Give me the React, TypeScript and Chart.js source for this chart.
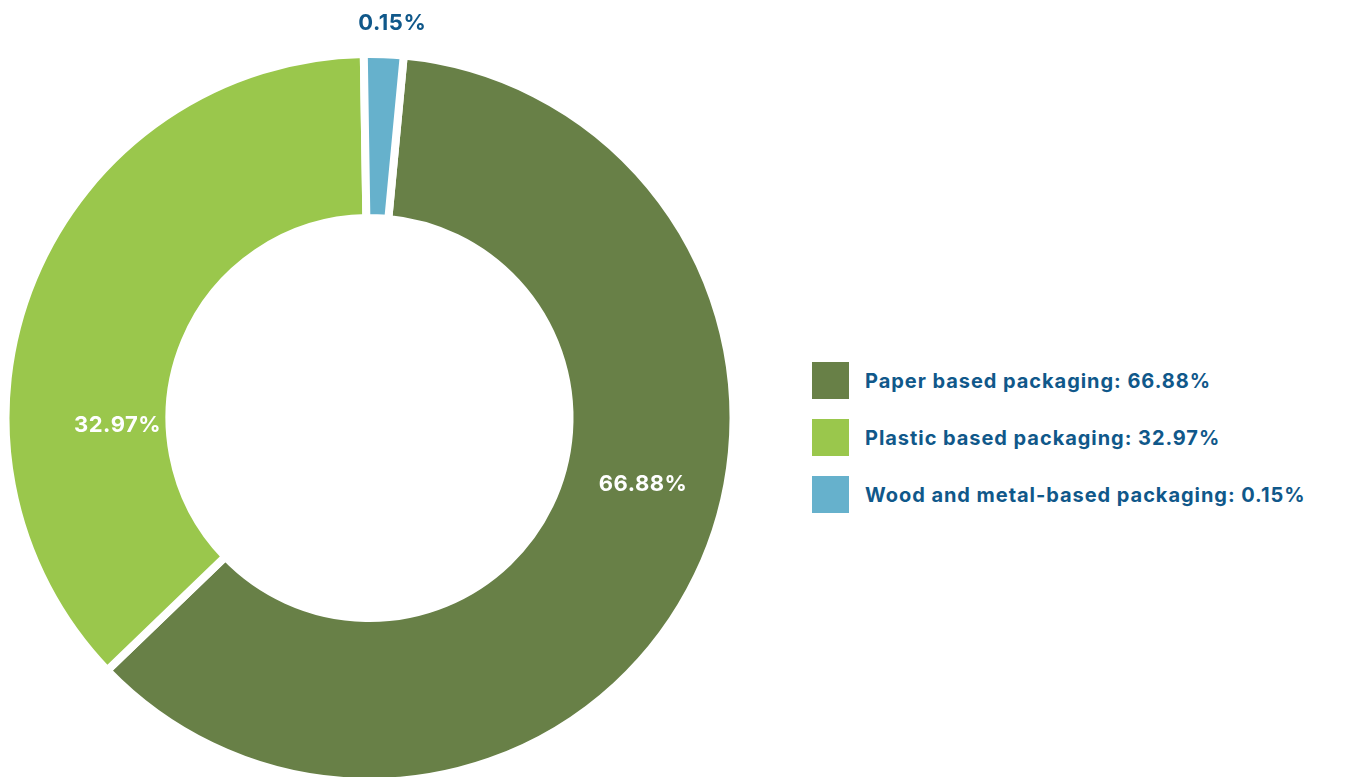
import React, { useEffect, useRef } from "react";
import { Chart, registerables } from "chart.js";

Chart.register(...registerables);

// ---- data ----
const categories = [
  "Paper based packaging",
  "Plastic based packaging",
  "Wood and metal-based packaging",
];
const printedPercent = ["66.88%", "32.97%", "0.15%"];
// share of the ring each slice occupies
const arcShare = [61.3, 36.95, 1.75];
const sliceColors = ["#688047", "#9AC74C", "#66B1CC"];

const TEXT_BLUE = "#10588A";
const FONT = "Inter, 'Open Sans', sans-serif";

// label placement: angle clockwise from top (deg), radius as fraction of the outer radius
const labelPlacement = [
  { angle: 103.6, r: 0.782, color: "#ffffff" },
  { angle: 268.3, r: 0.7, color: "#ffffff" },
  { angle: 3.3, r: 1.099, color: TEXT_BLUE },
];

const sliceLabelPlugin = {
  id: "sliceLabels",
  afterDatasetsDraw(chart: any) {
    const meta = chart.getDatasetMeta(0);
    const ctx = chart.ctx;
    ctx.save();
    ctx.font = `700 22px ${FONT}`;
    try {
      (ctx as any).letterSpacing = "0.5px";
    } catch (e) {}
    ctx.textAlign = "center";
    ctx.textBaseline = "middle";
    meta.data.forEach((arc: any, i: number) => {
      const p = labelPlacement[i];
      const R = arc.outerRadius - 4;
      const th = (p.angle * Math.PI) / 180;
      const px = arc.x + p.r * R * Math.sin(th);
      const py = arc.y - p.r * R * Math.cos(th);
      ctx.fillStyle = p.color;
      ctx.fillText(printedPercent[i], px, py);
    });
    ctx.restore();
  },
};

export default function App() {
  const canvasRef = useRef<HTMLCanvasElement | null>(null);

  useEffect(() => {
    if (!canvasRef.current) return;
    const chart = new Chart(canvasRef.current, {
      type: "doughnut",
      data: {
        labels: categories,
        datasets: [
          {
            data: arcShare,
            backgroundColor: sliceColors,
            borderColor: "#ffffff",
            borderWidth: 8,
            hoverOffset: 0,
          },
        ],
      },
      options: {
        responsive: false,
        animation: false,
        rotation: 5.4,
        radius: 364,
        cutout: "54.95%",
        layout: { padding: { left: 0, top: 0, right: 17, bottom: 10 } },
        plugins: {
          legend: { display: false },
          tooltip: { enabled: false },
        },
      },
      plugins: [sliceLabelPlugin],
    });
    return () => chart.destroy();
  }, []);

  return (
    <div
      style={{
        position: "relative",
        width: 1338,
        height: 769,
        overflow: "hidden",
        fontFamily: FONT,
      }}
    >
      <canvas
        ref={canvasRef}
        width={740}
        height={830}
        style={{ position: "absolute", left: 0, top: 0 }}
      />
      <div style={{ position: "absolute", left: 804, top: 354 }}>
        {categories.map((c, i) => (
          <div
            key={c}
            style={{
              display: "flex",
              alignItems: "center",
              height: 37,
              marginBottom: 20,
            }}
          >
            <div
              style={{
                width: 37,
                height: 37,
                background: sliceColors[i],
                flex: "0 0 auto",
              }}
            />
            <span
              style={{
                marginLeft: 16,
                fontWeight: 700,
                fontSize: 20,
                letterSpacing: "0.95px",
                color: TEXT_BLUE,
                whiteSpace: "nowrap",
              }}
            >
              {c}: {printedPercent[i]}
            </span>
          </div>
        ))}
      </div>
    </div>
  );
}
